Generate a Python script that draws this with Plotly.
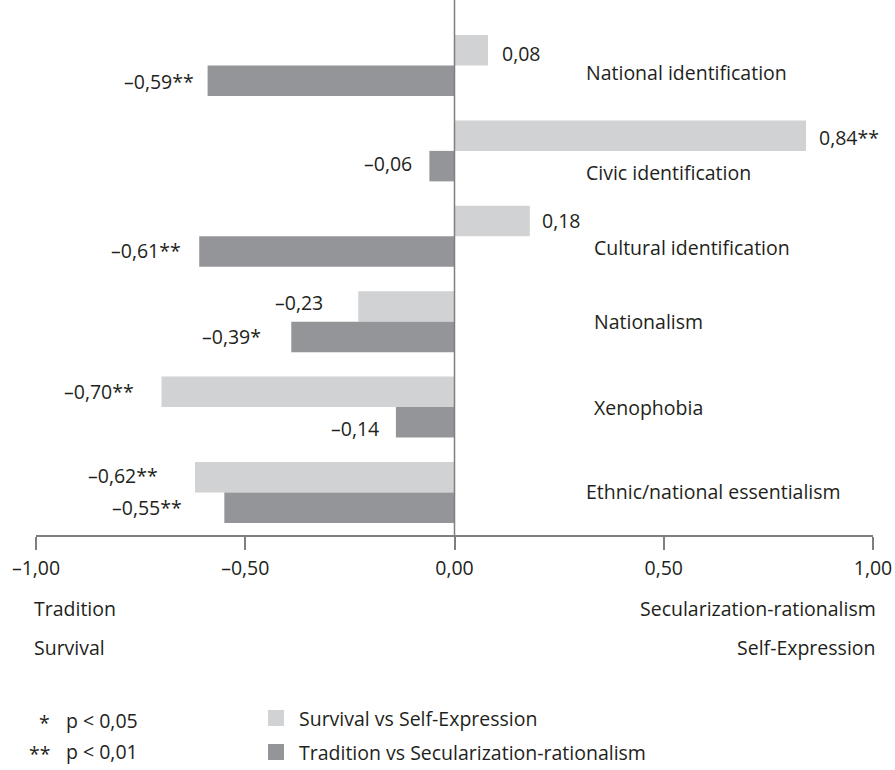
import plotly.graph_objects as go

# ---------------- data ----------------
categories = ["National identification", "Civic identification", "Cultural identification",
              "Nationalism", "Xenophobia", "Ethnic/national essentialism"]
survival_values = [0.08, 0.84, 0.18, -0.23, -0.70, -0.62]
survival_sig = ["", "**", "", "", "**", "**"]
tradition_values = [-0.59, -0.06, -0.61, -0.39, -0.14, -0.55]
tradition_sig = ["**", "", "**", "*", "", "**"]
tick_values = [-1.0, -0.5, 0.0, 0.5, 1.0]
tick_labels = ["–1,00", "–0,50", "0,00", "0,50", "1,00"]
series_names = ["Survival vs Self-Expression", "Tradition vs Secularization-rationalism"]

# ---------------- style ----------------
W, H = 895, 770
L, R, T, B = 36, 22, 0, 235
FONT = "Open Sans"
FS = 19.5
TXT = "#231f20"
LIGHT = "#d1d2d4"
DARK = "#939598"
AXC = "#7f7f7f"
BARGAP = 0.286

# label placement tweaks (pixels)
surv_xshift = [12, 11, 10, -33, -26, -35]
surv_yshift = [-3, -2, 1, 4, 0, 2]
trad_xshift = [-12, -15, -16, -28, -15, -40]
trad_yshift = [-1, 3, 1, 0, -6, 0]
cat_label_x = [0.309, 0.309, 0.328, 0.328, 0.328, 0.309]
cat_label_yshift = [-7, -22, -11, 0, 0, 1]

def fmt(v, sig):
    s = f"{abs(v):.2f}".replace(".", ",")
    return ("–" if v < 0 else "") + s + sig

pw = W - L - R
ph = H - T - B
def px2paper_x(px):
    return (px - L) / pw
def py2paper_y(py):
    return (H - B - py) / ph

ypos = list(range(len(categories)))

fig = go.Figure()
fig.add_trace(go.Bar(y=ypos, x=survival_values, orientation="h", name=series_names[0],
                     marker=dict(color=LIGHT, line=dict(width=0)), showlegend=False))
fig.add_trace(go.Bar(y=ypos, x=tradition_values, orientation="h", name=series_names[1],
                     marker=dict(color=DARK, line=dict(width=0)), showlegend=False))

half = (1 - BARGAP) / 4
ann = []
for i, (v, s) in enumerate(zip(survival_values, survival_sig)):
    ann.append(dict(x=v, y=i - half, xref="x", yref="y", text=fmt(v, s), showarrow=False,
                    xanchor="left" if v >= 0 else "right", yanchor="middle",
                    xshift=surv_xshift[i], yshift=surv_yshift[i],
                    font=dict(family=FONT, size=FS, color=TXT)))
for i, (v, s) in enumerate(zip(tradition_values, tradition_sig)):
    ann.append(dict(x=v, y=i + half, xref="x", yref="y", text=fmt(v, s), showarrow=False,
                    xanchor="left" if v >= 0 else "right", yanchor="middle",
                    xshift=trad_xshift[i], yshift=trad_yshift[i],
                    font=dict(family=FONT, size=FS, color=TXT)))
for i, c in enumerate(categories):
    ann.append(dict(x=cat_label_x[i], y=i, xref="x", yref="y", text=c, showarrow=False,
                    xanchor="left", yanchor="middle", yshift=cat_label_yshift[i],
                    font=dict(family=FONT, size=FS, color=TXT)))

# pole labels
poles = [("Tradition", 32, 608, "left"), ("Survival", 32, 647, "left"),
         ("Secularization-rationalism", 878, 608, "right"), ("Self-Expression", 878, 647, "right")]
for t, x, y, a in poles:
    ann.append(dict(x=px2paper_x(x), y=py2paper_y(y), xref="paper", yref="paper", text=t,
                    showarrow=False, xanchor=a, yanchor="middle",
                    font=dict(family=FONT, size=FS, color=TXT)))

# significance legend
for t, x, y in [("*", 52, 722), ("**", 52, 753)]:
    ann.append(dict(x=px2paper_x(x), y=py2paper_y(y), xref="paper", yref="paper", text=t,
                    showarrow=False, xanchor="right", yanchor="middle",
                    font=dict(family=FONT, size=FS, color=TXT)))
for t, x, y in [("p < 0,05", 64, 720), ("p < 0,01", 64, 751)]:
    ann.append(dict(x=px2paper_x(x), y=py2paper_y(y), xref="paper", yref="paper", text=t,
                    showarrow=False, xanchor="left", yanchor="middle",
                    font=dict(family=FONT, size=FS, color=TXT)))

# series legend
shapes = []
for name, col, y in [(series_names[0], LIGHT, 718), (series_names[1], DARK, 752)]:
    shapes.append(dict(type="rect", xref="paper", yref="paper",
                       x0=px2paper_x(268), x1=px2paper_x(284),
                       y0=py2paper_y(y - 8), y1=py2paper_y(y + 8),
                       fillcolor=col, line=dict(width=0)))
    ann.append(dict(x=px2paper_x(297), y=py2paper_y(y), xref="paper", yref="paper", text=name,
                    showarrow=False, xanchor="left", yanchor="middle",
                    font=dict(family=FONT, size=FS, color=TXT)))

# zero line
shapes.append(dict(type="line", xref="x", yref="paper", x0=0, x1=0, y0=0, y1=1,
                   line=dict(color=AXC, width=1.5), layer="above"))

n = len(categories)
fig.update_layout(
    width=W, height=H, margin=dict(l=L, r=R, t=T, b=B, autoexpand=False),
    paper_bgcolor="white", plot_bgcolor="white",
    barmode="group", bargap=BARGAP, bargroupgap=0,
    annotations=ann, shapes=shapes,
    font=dict(family=FONT, size=FS, color=TXT),
    xaxis=dict(range=[-1, 1], tickvals=tick_values, ticktext=tick_labels,
               showgrid=False, zeroline=False, showline=True, linecolor=AXC, linewidth=1.5,
               ticks="outside", ticklen=13, tickwidth=1.5, tickcolor=AXC,
               ticklabelstandoff=2, automargin=False,
               tickfont=dict(family=FONT, size=FS, color=TXT), fixedrange=True),
    yaxis=dict(range=[n - 0.502, -0.767], visible=False, showgrid=False, zeroline=False,
               fixedrange=True),
)

fig.write_html("out.html", config={"displayModeBar": False},
               post_script="document.body.style.margin='0';document.body.style.overflow='hidden';")
